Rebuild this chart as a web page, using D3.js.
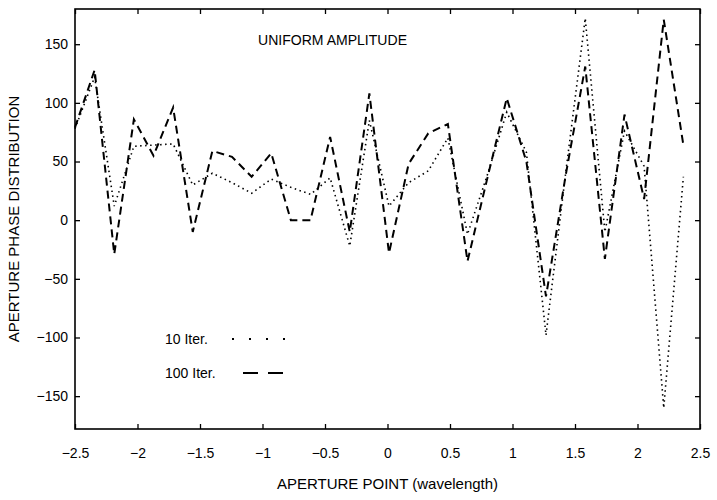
<!DOCTYPE html>
<html>
<head>
<meta charset="utf-8">
<script src="https://cdn.jsdelivr.net/npm/d3@7"></script>
<style>
  body { margin: 0; background: #fff; }
  text { font-family: "Liberation Sans Narrow", "Liberation Sans", Arial, sans-serif; fill: #000; }
</style>
</head>
<body>
<div id="chart"></div>
<script>
// Aperture sample points (wavelength)
const aperturePoints = [
  -2.5, -2.343, -2.186, -2.029, -1.872, -1.715, -1.558, -1.401,
  -1.244, -1.087, -0.93, -0.773, -0.616, -0.459, -0.302, -0.145,
  0.012, 0.169, 0.326, 0.483, 0.64, 0.797, 0.954, 1.111,
  1.268, 1.425, 1.582, 1.739, 1.896, 2.053, 2.21, 2.367
];

// Phase distribution after 10 iterations (dotted)
const phase10Iter = [
  78, 122, 12, 63, 64, 65, 30, 40,
  32, 23, 35, 28, 22, 36, -22, 85,
  12, 32, 42, 70, -12, 38, 92, 58,
  -98, 40, 172, -10, 76, 46, -160, 37
];

// Phase distribution after 100 iterations (dashed)
const phase100Iter = [
  79, 128, -29, 86, 55, 96, -10, 59,
  54, 37, 57, 0, 0, 71, -10, 108,
  -28, 48, 74, 82, -35, 35, 104, 50,
  -65, 38, 131, -33, 90, 18, 171, 64
];

const xTicks = [-2.5, -2, -1.5, -1, -0.5, 0, 0.5, 1, 1.5, 2, 2.5];
const yTicks = [-150, -100, -50, 0, 50, 100, 150];

const width = 717, height = 500;
const margins = { top: 9, right: 17, bottom: 71, left: 75 };
const innerW = width - margins.left - margins.right;
const innerH = height - margins.top - margins.bottom;

const svg = d3.select('#chart').append('svg')
  .attr('width', width)
  .attr('height', height);

const g = svg.append('g')
  .attr('transform', `translate(${margins.left},${margins.top})`);

const x = d3.scaleLinear().domain([-2.5, 2.5]).range([0, innerW]);
const y = d3.scaleLinear().domain([-178, 180]).range([innerH, 0]);

// Axes with inward ticks (box style)
const fmt = d3.format('');
const bottomAxis = g.append('g')
  .attr('transform', `translate(0,${innerH})`)
  .call(d3.axisBottom(x).tickValues(xTicks).tickFormat(fmt).tickSizeInner(-5).tickSizeOuter(0).tickPadding(19));
const leftAxis = g.append('g')
  .call(d3.axisLeft(y).tickValues(yTicks).tickFormat(fmt).tickSizeInner(-5).tickSizeOuter(0).tickPadding(7));
const topAxis = g.append('g')
  .call(d3.axisTop(x).tickValues(xTicks).tickFormat('').tickSizeInner(-5).tickSizeOuter(0));
const rightAxis = g.append('g')
  .attr('transform', `translate(${innerW},0)`)
  .call(d3.axisRight(y).tickValues(yTicks).tickFormat('').tickSizeInner(-5).tickSizeOuter(0));

[bottomAxis, leftAxis, topAxis, rightAxis].forEach(a => {
  a.select('.domain').remove();
  a.selectAll('.tick line').attr('stroke', '#000').attr('stroke-width', 1.3);
  a.selectAll('.tick text').attr('font-size', 14);
});

g.append('rect')
  .attr('width', innerW)
  .attr('height', innerH)
  .attr('fill', 'none')
  .attr('stroke', '#000')
  .attr('stroke-width', 1.6);

// Series lines
const line = d3.line()
  .x((d, i) => x(aperturePoints[i]))
  .y(d => y(d));

g.append('path')
  .datum(phase10Iter)
  .attr('d', line)
  .attr('fill', 'none')
  .attr('stroke', '#000')
  .attr('stroke-width', 1.6)
  .attr('stroke-dasharray', '1.5,3.5');

g.append('path')
  .datum(phase100Iter)
  .attr('d', line)
  .attr('fill', 'none')
  .attr('stroke', '#000')
  .attr('stroke-width', 2)
  .attr('stroke-dasharray', '8,5');

// Title inside plot
svg.append('text')
  .attr('x', 258)
  .attr('y', 45)
  .attr('font-size', 15)
  .attr('textLength', 149)
  .attr('lengthAdjust', 'spacingAndGlyphs')
  .text('UNIFORM AMPLITUDE');

// Legend
const legend = [
  { label: '10 Iter.', dash: '2,15', width: 2, x1: 232, x2: 288, y: 339 },
  { label: '100 Iter.', dash: '15,10', width: 2, x1: 243, x2: 286, y: 373 }
];
legend.forEach(d => {
  svg.append('text')
    .attr('x', 165)
    .attr('y', d.y + 5)
    .attr('font-size', 14)
    .text(d.label);
  svg.append('line')
    .attr('x1', d.x1).attr('x2', d.x2)
    .attr('y1', d.y).attr('y2', d.y)
    .attr('stroke', '#000')
    .attr('stroke-width', d.width)
    .attr('stroke-dasharray', d.dash);
});

// Axis titles
svg.append('text')
  .attr('x', margins.left + innerW / 2)
  .attr('y', 489)
  .attr('text-anchor', 'middle')
  .attr('font-size', 15)
  .text('APERTURE POINT (wavelength)');

svg.append('text')
  .attr('transform', `translate(19,${margins.top + innerH / 2}) rotate(-90)`)
  .attr('text-anchor', 'middle')
  .attr('font-size', 15)
  .text('APERTURE PHASE DISTRIBUTION');
</script>
</body>
</html>
